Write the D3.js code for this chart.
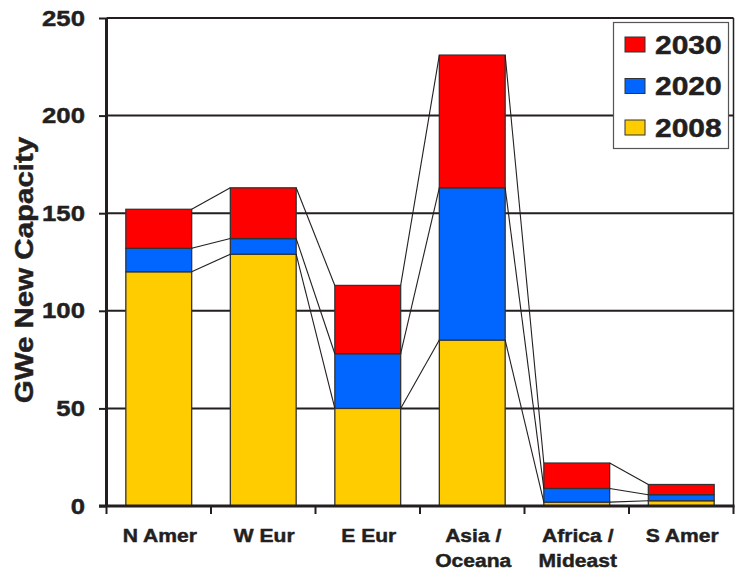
<!DOCTYPE html>
<html><head><meta charset="utf-8">
<script src="https://cdn.jsdelivr.net/npm/d3@7"></script>
<style>body{margin:0;background:#fff}svg{display:block}text{font-family:"Liberation Sans",Arial,sans-serif;font-weight:bold;fill:#231f20;stroke:#231f20;stroke-width:0.45px}</style>
</head><body><svg id="c" width="735" height="571"></svg>
<script>
const categories = [["N Amer"],["W Eur"],["E Eur"],["Asia /","Oceana"],["Africa /","Mideast"],["S Amer"]];
const years = ["2008","2020","2030"];
// cumulative totals
const total2008 = [120, 129, 50, 85, 2, 2.7];
const total2020 = [132, 137, 78, 163, 9, 5.8];
const total2030 = [152, 163, 113, 231, 22, 11];
const colors = ["#FFCC00", "#0066FF", "#FF0000"];
const yTicks = [0, 50, 100, 150, 200, 250];

const svg = d3.select("#c");
const L = 106.5, R = 733.5, T = 18, B = 506;
const x = d3.scaleBand().domain(d3.range(categories.length)).range([L, R]).paddingInner(0.37).paddingOuter(0.185);
const xb = d3.scaleBand().domain(d3.range(categories.length)).range([L, R]);
const y = d3.scaleLinear().domain([0, 250]).range([B, T]);
const series = [total2008, total2020, total2030];

// gridlines
svg.append("g").selectAll("line").data(yTicks.filter(d=>d>0)).join("line")
  .attr("x1", L).attr("x2", R).attr("y1", d=>y(d)).attr("y2", d=>y(d))
  .attr("stroke", "#231f20").attr("stroke-width", 2);
// right border
svg.append("line").attr("x1", R).attr("x2", R).attr("y1", T).attr("y2", B).attr("stroke","#231f20").attr("stroke-width",1.5);

// bars
const g = svg.append("g");
series.forEach((s, k) => {
  g.selectAll(null).data(s).join("rect")
    .attr("x", (d,i)=>x(i)).attr("width", x.bandwidth())
    .attr("y", d=>y(d))
    .attr("height", (d,i)=> y(k===0?0:series[k-1][i]) - y(d))
    .attr("fill", colors[k]).attr("stroke", "#333").attr("stroke-width", 1.3);
});
// connector lines
series.forEach((s) => {
  g.selectAll(null).data(d3.range(s.length-1)).join("line")
    .attr("x1", i=>x(i)+x.bandwidth()).attr("y1", i=>y(s[i]))
    .attr("x2", i=>x(i+1)).attr("y2", i=>y(s[i+1]))
    .attr("stroke", "#231f20").attr("stroke-width", 1.1);
});

// y axis
const ya = svg.append("g").attr("transform", `translate(${L},0)`)
  .call(d3.axisLeft(y).tickValues(yTicks).tickSize(7.5).tickPadding(14));
ya.select(".domain").attr("stroke","#231f20").attr("stroke-width",3).attr("d", `M0,${T}V${B+1}`);
ya.selectAll(".tick line").attr("stroke","#231f20").attr("stroke-width",2);
ya.selectAll(".tick text").style("font-size","22px").style("font-weight","bold").attr("fill","#231f20")
  .attr("x", 0).attr("transform", "translate(-21.5,0) scale(1.17,1)");

// x axis
const xa = svg.append("g").attr("transform", `translate(0,${B})`);
xa.append("line").attr("x1", L-7.5).attr("x2", R+1).attr("y1",0).attr("y2",0).attr("stroke","#231f20").attr("stroke-width",3);
xa.selectAll(null).data(d3.range(categories.length+1)).join("line")
  .attr("x1", i=> i<categories.length? xb(i): R).attr("x2", i=> i<categories.length? xb(i): R)
  .attr("y1",0).attr("y2",8).attr("stroke","#231f20").attr("stroke-width",2);
categories.forEach((c,i)=>{
  const t = xa.append("text").attr("transform", `translate(${x(i)+x.bandwidth()/2+1},35.7) scale(1.14,1)`)
    .attr("text-anchor","middle").style("font-size","18.5px");
  c.forEach((ln,j)=> t.append("tspan").attr("x", 0).attr("dy", j===0?0:25).text(ln));
});

// y label
svg.append("text").attr("transform","translate(33,270) rotate(-90) scale(1.18,1)").attr("text-anchor","middle")
  .style("font-size","25px").text("GWe New Capacity");

// legend
const lg = svg.append("g").attr("transform","translate(613.5,22.5)");
lg.append("rect").attr("x",0).attr("y",0).attr("width",115).attr("height",126).attr("fill","#fff").attr("stroke","#555").attr("stroke-width",1.2);
const legendItems = [["2030",colors[2]],["2020",colors[1]],["2008",colors[0]]];
legendItems.forEach((d,i)=>{
  const cy = 22 + i*41.5;
  lg.append("rect").attr("x",11.5).attr("y",cy-7.5).attr("width",20).attr("height",15).attr("fill",d[1]).attr("stroke","#333").attr("stroke-width",1);
  lg.append("text").attr("transform",`translate(41.5,${cy+9}) scale(1.2,1)`).style("font-size","25px").text(d[0]);
});
</script></body></html>
